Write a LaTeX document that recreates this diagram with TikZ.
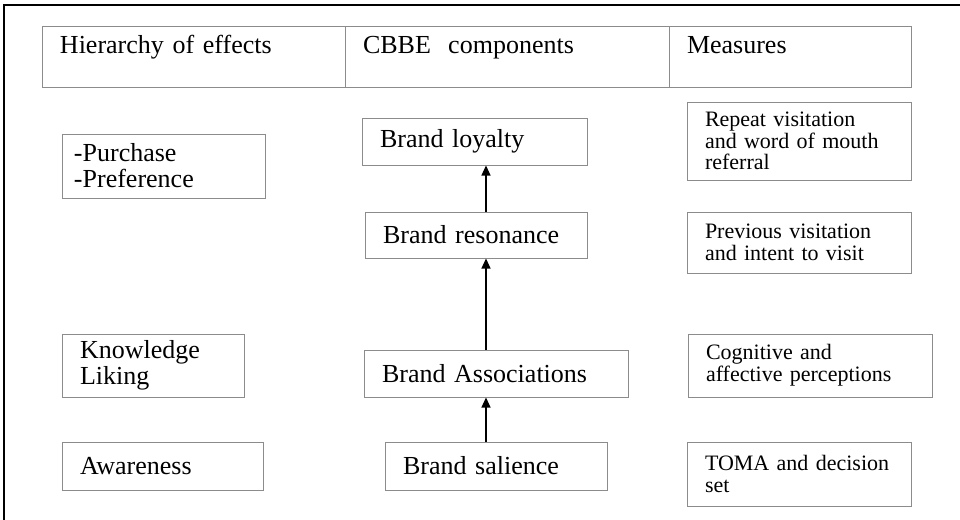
\documentclass[tikz,border=0pt]{standalone}
\usepackage{fontspec}
\setmainfont{Liberation Serif}
\usetikzlibrary{arrows.meta}

\begin{document}
\begin{tikzpicture}[x=0.5pt, y=-0.5pt,
  every node/.style={rectangle, draw=black!45, line width=0.5pt, align=left, inner xsep=9pt, inner ysep=2pt, font=\fontsize{13}{13}\selectfont},
  head/.style={text height=9.5pt, text depth=13pt, minimum height=30.5pt},
  meas/.style={font=\fontsize{11}{10.8}\selectfont},
  arr/.style={-{Triangle[width=4.5pt,length=5pt]}, line width=0.6pt}]
  \useasboundingbox (0,0) rectangle (960,520);
  \clip (0,0) rectangle (960,520);
  \draw[line width=1pt] (4,530) -- (4,5) -- (970,5);

  \node[head, text width=133.5pt] (h1) at (193.5,56.5) {Hierarchy of effects};
  \node[head, text width=144pt] (h2) at (507,56.5) {CBBE\ \ components};
  \node[head, text width=103pt] (h3) at (790,56.5) {Measures};

  \node[inner xsep=6pt, text width=89.5pt, minimum height=32pt] (pur) at (163.5,166) {-Purchase\\-Preference};
  \node[text width=73pt, minimum height=31.5pt] (kno) at (153,365.5) {Knowledge\\Liking};
  \node[text width=82.5pt, minimum height=24pt] (awa) at (162.5,466) {Awareness};

  \node[text width=94.5pt, minimum height=23.5pt] (loy) at (474.5,141.5) {Brand loyalty};
  \node[text width=93pt, minimum height=23pt] (res) at (476,235) {Brand resonance};
  \node[text width=114pt, minimum height=23.5pt] (ass) at (496,373.5) {Brand Associations};
  \node[text width=93pt, minimum height=24pt] (sal) at (496,466) {Brand salience};

  \node[meas, text width=94pt, minimum height=39pt] (rep) at (799,141) {Repeat visitation\\and word of mouth\\referral};
  \node[meas, text width=94pt, minimum height=30.5pt] (pre) at (799,242.5) {Previous visitation\\and intent to visit};
  \node[meas, text width=104pt, minimum height=31.5pt] (cog) at (810,365.5) {Cognitive and\\affective perceptions};
  \node[meas, text width=94pt, minimum height=32pt] (tom) at (799,474) {TOMA and decision\\set};

  \draw[arr] ([xshift=5pt]res.north) -- ([xshift=5.75pt]loy.south);
  \draw[arr] ([xshift=-5pt]ass.north) -- ([xshift=5pt]res.south);
  \draw[arr] ([xshift=-5pt]sal.north) -- ([xshift=-5pt]ass.south);
\end{tikzpicture}
\end{document}
